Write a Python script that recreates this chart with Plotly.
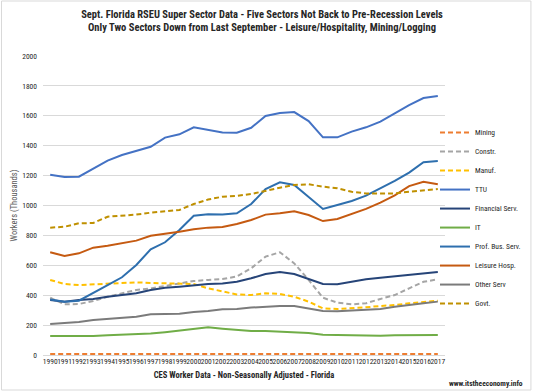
import plotly.graph_objects as go

years = list(range(1990, 2018))

mining = [7, 7, 7, 6, 6, 6, 6, 6, 6, 6, 6, 6, 6, 6, 6, 6, 6, 6, 6, 6, 5, 5, 5, 5, 6, 6, 6, 6]
constr = [383, 339, 341, 361, 390, 413, 435, 445, 460, 475, 495, 502, 508, 525, 580, 658, 687, 613, 502, 383, 350, 339, 346, 375, 401, 446, 490, 506]
manuf = [502, 475, 468, 473, 473, 479, 486, 482, 479, 475, 475, 446, 424, 405, 401, 413, 408, 390, 357, 312, 308, 312, 319, 328, 334, 346, 357, 363]
ttu = [1205, 1190, 1193, 1249, 1300, 1338, 1367, 1393, 1454, 1476, 1523, 1505, 1489, 1487, 1520, 1599, 1619, 1625, 1565, 1456, 1456, 1494, 1523, 1561, 1617, 1672, 1719, 1732]
financial = [368, 357, 368, 375, 390, 401, 413, 435, 450, 457, 468, 475, 479, 490, 513, 542, 555, 542, 508, 475, 473, 490, 506, 517, 526, 537, 546, 555]
it = [127, 127, 125, 127, 132, 136, 138, 143, 152, 163, 174, 185, 176, 166, 160, 161, 156, 156, 147, 136, 134, 129, 129, 129, 132, 132, 133, 133]
prof_bus = [372, 357, 363, 413, 468, 520, 602, 707, 754, 836, 932, 941, 939, 948, 1010, 1110, 1155, 1137, 1059, 977, 1003, 1030, 1066, 1113, 1164, 1220, 1290, 1298]
leisure = [687, 662, 680, 718, 731, 747, 765, 798, 809, 825, 841, 852, 856, 876, 903, 939, 948, 961, 936, 896, 910, 941, 977, 1019, 1068, 1130, 1159, 1142]
other = [207, 212, 221, 234, 241, 252, 256, 272, 272, 276, 288, 294, 306, 308, 317, 323, 328, 328, 312, 294, 292, 297, 301, 308, 323, 337, 346, 357]
govt = [852, 858, 881, 883, 925, 932, 939, 952, 963, 970, 1010, 1040, 1059, 1064, 1077, 1099, 1119, 1137, 1142, 1126, 1115, 1092, 1081, 1081, 1081, 1092, 1100, 1110]

series = [
    ("Mining", mining, "#ED7D31", "5px,3px"),
    ("Constr.", constr, "#A5A5A5", "5px,3px"),
    ("Manuf.", manuf, "#FFC000", "5px,3px"),
    ("TTU", ttu, "#4472C4", "solid"),
    ("Financial Serv.", financial, "#264478", "solid"),
    ("IT", it, "#70AD47", "solid"),
    ("Prof. Bus. Serv.", prof_bus, "#2E6FAE", "solid"),
    ("Leisure Hosp.", leisure, "#C55A11", "solid"),
    ("Other Serv", other, "#7B7B7B", "solid"),
    ("Govt.", govt, "#BF9000", "5px,3px"),
]

FONT = "Liberation Sans Narrow, Roboto Condensed, Liberation Sans, Arial"

fig = go.Figure()
for name, vals, color, dash in series:
    fig.add_trace(go.Scatter(
        x=years, y=vals, name=name, mode="lines",
        line=dict(color=color, width=2, dash=dash),
    ))

L, R, T, B = 43, 88, 56, 36
fig.update_layout(
    width=538, height=391,
    margin=dict(l=L, r=R, t=T, b=B),
    paper_bgcolor="white", plot_bgcolor="white",
    font=dict(family=FONT, color="#404040"),
    title=dict(
        text="<b>Sept. Florida RSEU Super Sector Data - Five Sectors Not Back to Pre-Recession Levels<br>Only Two Sectors Down from Last September - Leisure/Hospitality, Mining/Logging</b>",
        x=0.487, xref="container", xanchor="center",
        y=0.955, yref="container", yanchor="top",
        font=dict(size=10.5, color="#262626", family=FONT),
    ),
    xaxis=dict(
        range=[1989.5, 2017.5], tickmode="linear", tick0=1990, dtick=1,
        tickformat="d", tickangle=0, showgrid=False, zeroline=False,
        showline=False, ticks="",
        tickfont=dict(size=7.5, color="#262626", family=FONT),
        title=dict(text="<b>CES Worker Data - Non-Seasonally Adjusted - Florida</b>",
                   font=dict(size=8.5, color="#262626"), standoff=7),
    ),
    yaxis=dict(
        range=[0, 2000], tickmode="linear", dtick=200,
        showgrid=True, gridcolor="#D9D9D9", gridwidth=1,
        zeroline=True, zerolinecolor="#D9D9D9", zerolinewidth=1,
        showline=False, ticks="", ticklabelstandoff=5,
        tickfont=dict(size=7.5, color="#262626", family=FONT),
        title=dict(text="Workers (Thousands)", font=dict(size=8.5, color="#595959"), standoff=3),
    ),
    legend=dict(
        x=(532 - L) / 407, xanchor="right", y=0.458, yanchor="middle",
        font=dict(size=7.5, color="#262626", family=FONT),
        bgcolor="rgba(0,0,0,0)", tracegroupgap=0,
    ),
    showlegend=True,
)

fig.add_annotation(
    text="<b>www.itstheeconomy.info</b>", xref="paper", yref="paper",
    x=(531 - L) / 407, y=(355 - 383) / 299, xanchor="right", yanchor="middle",
    showarrow=False, font=dict(size=7.5, color="#262626", family=FONT),
)

fig.add_shape(
    type="rect", xref="paper", yref="paper",
    x0=(1 - L) / 407, x1=(537 - L) / 407, y0=(355 - 390) / 299, y1=(355 - 1) / 299,
    line=dict(color="#D9D9D9", width=1), fillcolor="rgba(0,0,0,0)", layer="below",
)

fig.write_html(
    "out.html",
    config={"displayModeBar": False},
    post_script="document.body.style.margin='0';document.body.style.padding='0';",
)
